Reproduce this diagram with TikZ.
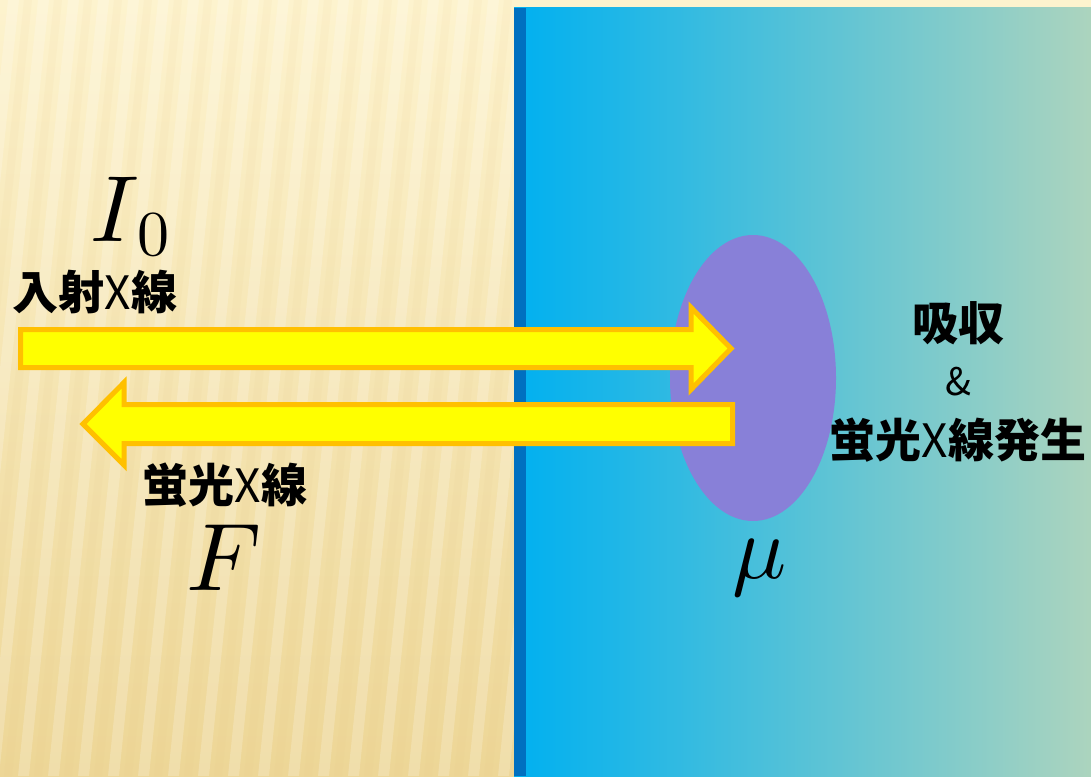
\documentclass[tikz,border=0pt]{standalone}
\usepackage{fontspec}
\usepackage{unicode-math}
\newfontfamily\jpfont{Noto Sans CJK JP}
\newcommand{\thinX}{{\mdseries X}}

\definecolor{cream}{RGB}{253,243,206}
\definecolor{sand}{RGB}{237,214,150}
\definecolor{skyblue}{RGB}{0,176,240}
\definecolor{midteal}{RGB}{50,188,230}
\definecolor{seagreen}{RGB}{172,212,190}
\definecolor{deepblue}{RGB}{0,112,192}
\definecolor{lavender}{RGB}{136,128,216}
\definecolor{beamfill}{RGB}{255,255,0}
\definecolor{beamedge}{RGB}{255,192,0}

\tikzset{
  beam/.style={fill=beamfill,draw=beamedge,line width=5pt,miter limit=10},
  jplabel/.style={font=\jpfont\bfseries\fontsize{46}{50}\selectfont,inner sep=0pt},
  symlabel/.style={font=\fontsize{90}{92}\selectfont,inner sep=0pt,anchor=base},
}

\begin{document}
\begin{tikzpicture}[x=1pt,y=-1pt]
  \useasboundingbox (0,0) rectangle (1091,776);
  \path
    (0,0) coordinate (NW)
    (1091,776) coordinate (SE)
    (514,8) coordinate (W)
    (526,776) coordinate (S)
    (753,378) coordinate (M)
    ;
  % background
  \shade[top color=cream,bottom color=sand] (NW) rectangle (SE);
  \begin{scope}
    \clip (0,0) rectangle (514,776);
    \foreach \i in {0,...,22}{
      \fill[white,opacity=.2] ({\i*30+8},0) -- ++(11,0) -- ++(-80,776) -- ++(-11,0) -- cycle;
      \fill[sand!80!brown,opacity=.08] ({\i*30+24},0) -- ++(8,0) -- ++(-80,776) -- ++(-8,0) -- cycle;
    }
  \end{scope}
  \shade[left color=skyblue,middle color=midteal,right color=seagreen] (W) rectangle (SE);
  \fill[deepblue] (W) rectangle (S);
  \fill[lavender] (M) ellipse (83 and 143);

  % beams
  \draw[beam] (20.5,329.5) -- (691,329.5) -- (691,307.5) -- (731,348.5)
    -- (691,389.5) -- (691,367.5) -- (20.5,367.5) -- cycle;
  \draw[beam] (732.5,404.5) -- (124,404.5) -- (124,382.5) -- (83,424)
    -- (124,465) -- (124,443.5) -- (732.5,443.5) -- cycle;

  % labels
  \node[symlabel,font=\fontsize{94}{96}\selectfont] (I0) at (130,241)
    {$I$\kern-2pt\raisebox{-14pt}{\fontsize{64}{66}\selectfont$0$}};
  \node[jplabel] (inc) at (95,292) {入射\thinX 線};
  \node[jplabel] (fluo) at (225,485) {蛍光\thinX 線};
  \node[symlabel,font=\fontsize{96}{98}\selectfont] (F) at (224,590) {$F$};
  \node[symlabel] (mu) at (760,578) {$\mu$};
  \node[jplabel] (abs) at (958,323) {吸収};
  \node[jplabel,font=\jpfont\fontsize{38}{40}\selectfont] (amp) at (958,382) {\&};
  \node[jplabel] (gen) at (958,440) {蛍光\thinX 線発生};
\end{tikzpicture}
\end{document}
